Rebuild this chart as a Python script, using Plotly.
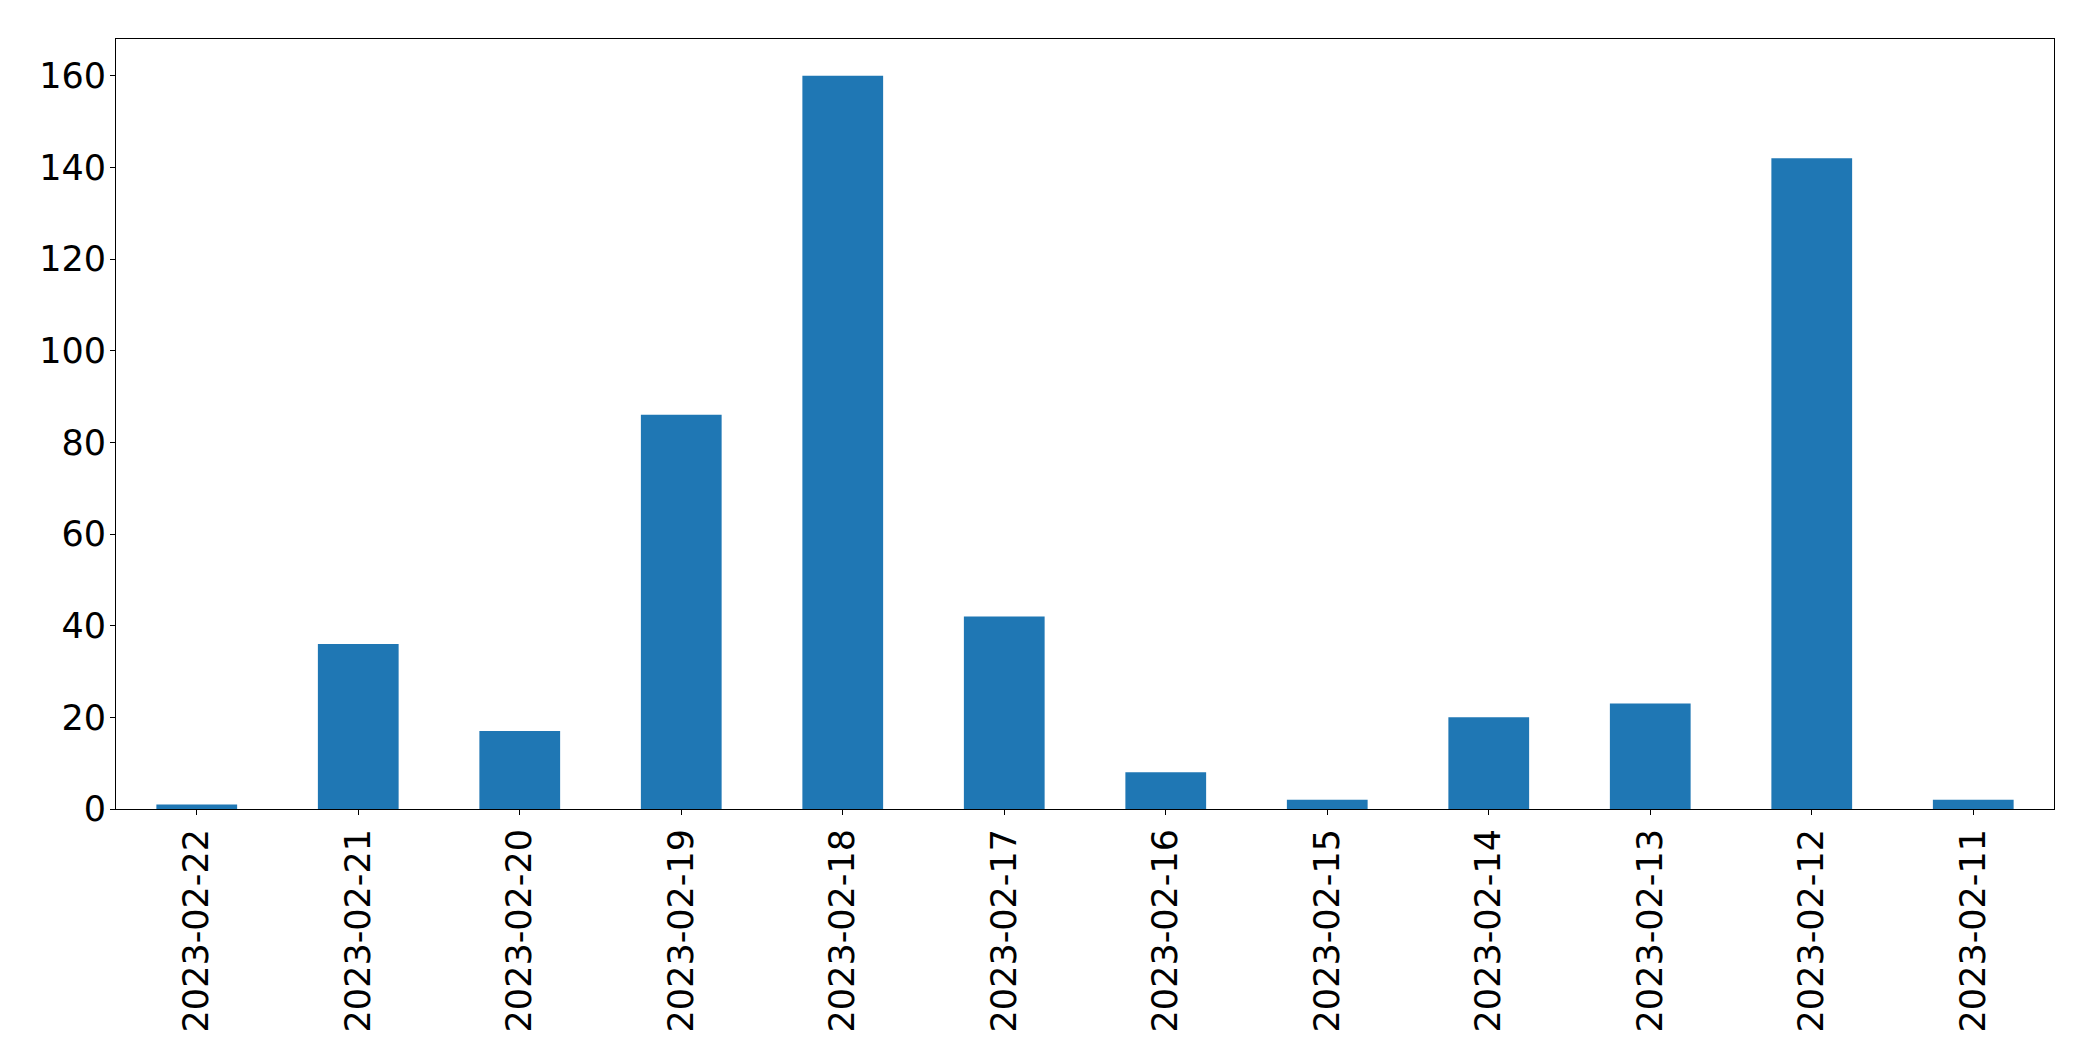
import plotly.graph_objects as go

dates = ["2023-02-22", "2023-02-21", "2023-02-20", "2023-02-19", "2023-02-18", "2023-02-17",
         "2023-02-16", "2023-02-15", "2023-02-14", "2023-02-13", "2023-02-12", "2023-02-11"]
counts = [1, 36, 17, 86, 160, 42, 8, 2, 20, 23, 142, 2]
y_ticks = [0, 20, 40, 60, 80, 100, 120, 140, 160]

fig = go.Figure(go.Bar(x=dates, y=counts, marker=dict(color="#1f77b4", line=dict(width=0)), width=0.5))

fig.update_layout(
    width=2085, height=1053,
    margin=dict(l=108, r=39, t=31, b=252),
    paper_bgcolor="white", plot_bgcolor="white",
    font=dict(family="DejaVu Sans", size=35, color="black"),
    showlegend=False,
    bargap=0.5,
)
fig.update_xaxes(
    type="category", range=[-0.5, len(dates) - 0.5],
    tickangle=-90, ticks="outside", ticklen=5, tickwidth=1, tickcolor="black",
    showline=True, linecolor="black", linewidth=1, mirror=True,
    showgrid=False, zeroline=False, ticklabelstandoff=0,
)
fig.update_yaxes(
    range=[0, 168], tickvals=y_ticks, ticks="outside", ticklen=5, tickwidth=1, tickcolor="black",
    showline=True, linecolor="black", linewidth=1, mirror=True,
    showgrid=False, zeroline=False, ticklabelstandoff=-3,
)
fig.write_html("out.html")
